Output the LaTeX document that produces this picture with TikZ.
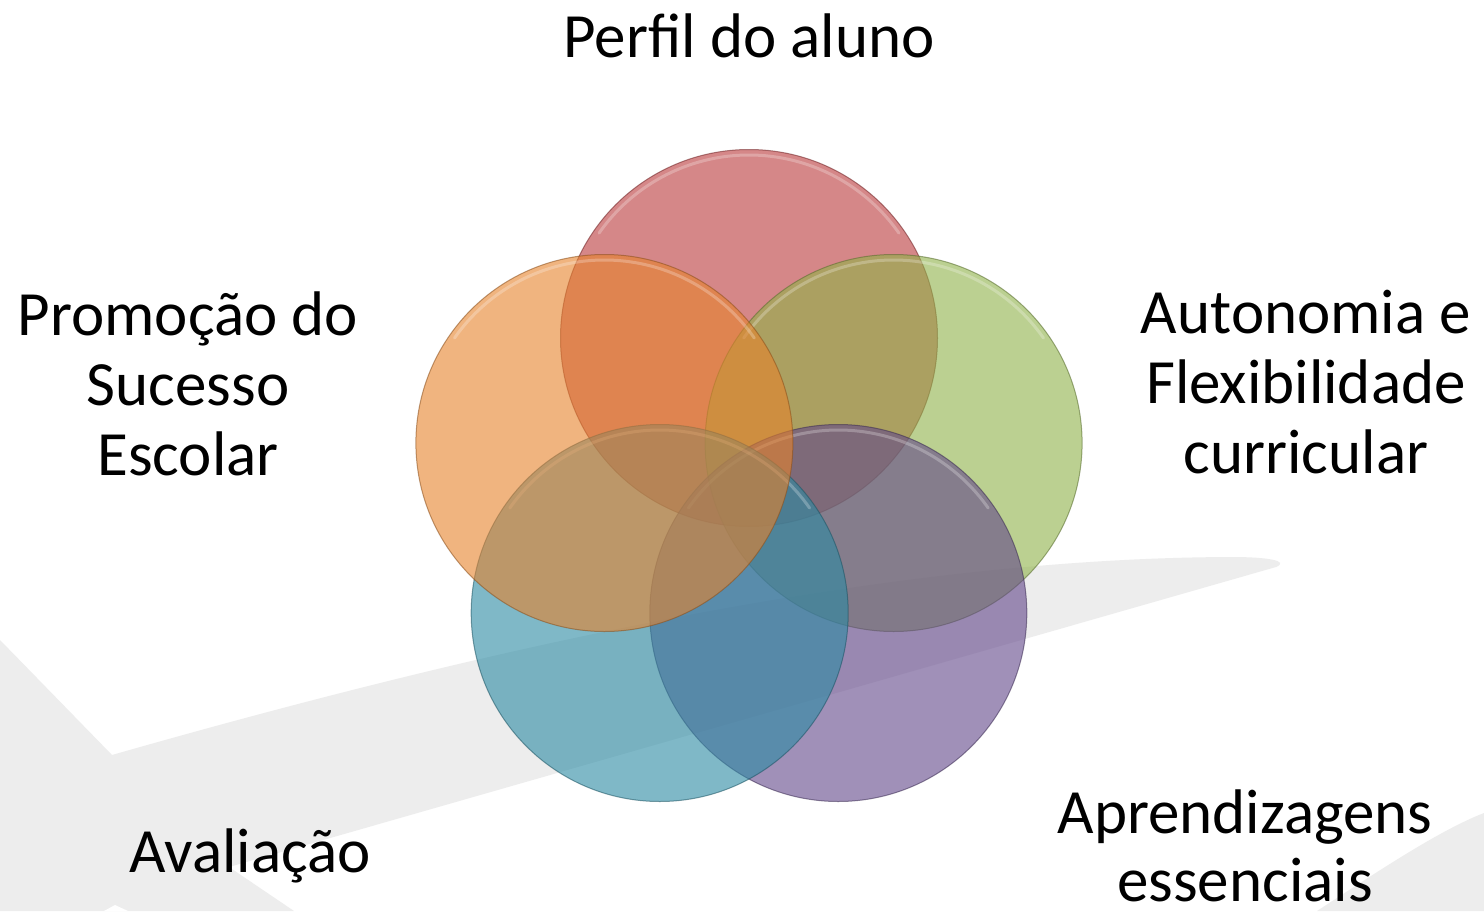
\documentclass[tikz,border=0pt]{standalone}
\usepackage{fontspec}
\setmainfont{Carlito}
\definecolor{bggrey}{RGB}{237,237,237}
\definecolor{cred}{RGB}{185,55,58}
\definecolor{corange}{RGB}{230,130,43}
\definecolor{cgreen}{RGB}{143,178,72}
\definecolor{cpurple}{RGB}{97,70,137}
\definecolor{cblue}{RGB}{43,138,163}
\begin{document}
\begin{tikzpicture}[x=1pt,y=-1pt,
  venn/.style={circle, minimum size=377pt, inner sep=0pt, fill opacity=0.6, draw opacity=0.55, line width=1pt},
  gloss/.style={white, opacity=0.25, line width=3pt, line cap=round},
  lbl/.style={font=\fontsize{63}{68}\selectfont, inner sep=0pt, align=center, anchor=base}]
\useasboundingbox (0,0) rectangle (1484,911);
\fill[white] (0,0) rectangle (1484,911);
% background swoosh shapes
\fill[bggrey] (0,640) -- (112,755) .. controls (480,650) and (880,558) .. (1232,557)
  .. controls (1268,557) and (1290,561) .. (1276,567) -- (229,867) -- (294,911) -- (0,911) -- cycle;
\fill[white] (104,911) -- (115,905) -- (128,911) -- cycle;
\fill[bggrey] (1484,813) .. controls (1440,830) and (1380,870) .. (1317,911) -- (1484,911) -- cycle;
% circles
\node[venn, fill=cred, draw=cred!60!black] (perfil) at (749,338) {};
\draw[gloss] ([shift={(-145:183)}]perfil.center) arc[start angle=-145, end angle=-35, radius=183];
\node[venn, fill=cgreen, draw=cgreen!60!black] (autonomia) at (893.6,443) {};
\draw[gloss] ([shift={(-145:183)}]autonomia.center) arc[start angle=-145, end angle=-35, radius=183];
\node[venn, fill=cpurple, draw=cpurple!60!black] (aprend) at (838.3,613) {};
\draw[gloss] ([shift={(-145:183)}]aprend.center) arc[start angle=-145, end angle=-35, radius=183];
\node[venn, fill=cblue, draw=cblue!60!black] (avalia) at (659.7,613) {};
\draw[gloss] ([shift={(-145:183)}]avalia.center) arc[start angle=-145, end angle=-35, radius=183];
\node[venn, fill=corange, draw=corange!60!black] (promo) at (604.4,443) {};
\draw[gloss] ([shift={(-145:183)}]promo.center) arc[start angle=-145, end angle=-35, radius=183];
% labels
\node[lbl] (tperfil) at (749,57) {Perfil do aluno};
\node[lbl, font=\fontsize{63}{70}\selectfont] (tprom) at (188,475) {Promoção do\\Sucesso\\Escolar};
\node[lbl, font=\fontsize{63}{70}\selectfont] (tauto) at (1306,473) {Autonomia e\\Flexibilidade\\curricular};
\node[lbl] (taval) at (250,872) {Avaliação};
\node[lbl] (tapr) at (1245,901) {Aprendizagens\\essenciais};
\end{tikzpicture}
\end{document}
